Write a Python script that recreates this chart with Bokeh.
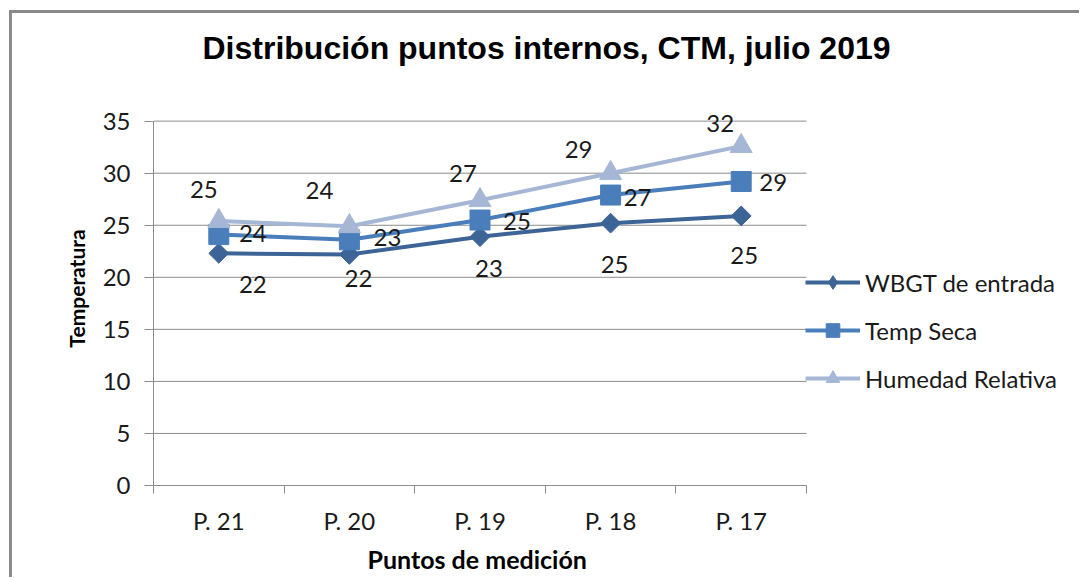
import math
from bokeh.plotting import figure
from bokeh.models import Range1d, FixedTicker, Legend, LegendItem, LabelSet, ColumnDataSource, Title
from bokeh.core.properties import value
from bokeh.embed import file_html
from bokeh.resources import INLINE

# ---------------- data ----------------
categories = ["P. 21", "P. 20", "P. 19", "P. 18", "P. 17"]
wbgt = [22.3, 22.2, 23.9, 25.2, 25.9]
temp_seca = [24.1, 23.6, 25.5, 27.9, 29.2]
humedad = [25.4, 24.9, 27.4, 30.0, 32.6]
wbgt_labels = ["22", "22", "23", "25", "25"]
temp_labels = ["24", "23", "25", "27", "29"]
hum_labels = ["25", "24", "27", "29", "32"]
series_names = ["WBGT de entrada", "Temp Seca", "Humedad Relativa"]
y_ticks = [0, 5, 10, 15, 20, 25, 30, 35]
title_text = "Distribución puntos internos, CTM, julio 2019"
x_title = "Puntos de medición"
y_title = "Temperatura"

# ---------------- layout / style ----------------
# label pixel offsets (dx right, dy down) relative to each point
wbgt_dx = [34, 9, 9, 4, 3]
wbgt_dy = [31, 24, 32, 41, 40]
temp_dx = [34, 38, 37, 27, 32]
temp_dy = [-1, -2, 1, 2, 1]
hum_dx = [-15, -30, -17, -32, -21]
hum_dy = [-32, -36, -27, -24, -23]

c_wbgt = "#3C6496"
c_temp = "#4A7EBB"
c_hum = "#A6B7D6"
grid_c = "#8c8c8c"
txt_c = "#1a1a1a"
FONT = "Lato"
FS = "24px"

W, H = 1070, 567
LEFT, BOTTOM, TOP = 141, 95, 78
PLOT_W = 653                      # pixel width of the category area
FRAME_W = W - LEFT                # frame extends under the legend
PX_PER_UNIT = 10.41               # vertical scale of the value axis
n = len(categories)
x_end = n * FRAME_W / PLOT_W
y_end = (H - BOTTOM - TOP) / PX_PER_UNIT

xs = [i + 0.5 for i in range(n)]
bounds = [float(i) for i in range(n + 1)]

p = figure(width=W, height=H,
           x_range=Range1d(0, x_end), y_range=Range1d(y_ticks[0], y_end),
           output_backend="svg", toolbar_location=None,
           min_border_left=LEFT, min_border_right=0,
           min_border_top=TOP, min_border_bottom=BOTTOM)
p.styles = {"margin-left": "12px", "margin-top": "13px",
            "box-shadow": "-3px -3px 0 0 #8a8a8a"}
p.outline_line_color = None
p.background_fill_color = "white"
p.border_fill_color = "white"

# title (trailing empty line keeps the title high above the plot area)
p.title.text = title_text + "\n"
p.title.text_font = "Liberation Sans"
p.title.text_font_style = "bold"
p.title.text_font_size = "32px"
p.title.text_color = "black"
p.title.align = "left"
p.title.offset = 49
p.title.vertical_align = "top"
p.title.standoff = -24

# axes
p.xaxis.ticker = FixedTicker(ticks=xs, minor_ticks=bounds)
p.xaxis.bounds = (0, n)
p.xaxis.major_label_overrides = {x: c for x, c in zip(xs, categories)}
p.xaxis.major_tick_out = 0
p.xaxis.major_tick_in = 0
p.xaxis.minor_tick_out = 8
p.xaxis.minor_tick_in = 0
p.xaxis.minor_tick_line_color = grid_c
p.xaxis.axis_line_color = grid_c
p.xaxis.major_label_standoff = 12

p.yaxis.ticker = FixedTicker(ticks=y_ticks, minor_ticks=[])
p.yaxis.bounds = (y_ticks[0], y_ticks[-1])
p.yaxis.major_tick_out = 9
p.yaxis.major_tick_in = 0
p.yaxis.major_tick_line_color = grid_c
p.yaxis.axis_line_color = grid_c
p.yaxis.major_label_standoff = 14
p.yaxis.axis_label = y_title
p.yaxis.axis_label_standoff = 11

for ax in (p.xaxis[0], p.yaxis[0]):
    ax.major_label_text_font = FONT
    ax.major_label_text_font_size = FS
    ax.major_label_text_color = txt_c
    ax.axis_label_text_font = FONT
    ax.axis_label_text_font_style = "bold"
    ax.axis_label_text_color = "black"
    ax.axis_line_width = 1
p.yaxis.axis_label_text_font_size = "21px"

# x-axis title, centred under the category area (leading empty line sets its depth)
xt = Title(text="\n" + x_title, align="left", offset=214, vertical_align="top",
           standoff=-47, text_font=FONT, text_font_style="bold",
           text_font_size="25px", text_color="black")
p.add_layout(xt, "below")

# horizontal grid lines over the category area only
p.xgrid.visible = False
p.ygrid.visible = False
p.segment(x0=[0] * len(y_ticks), x1=[n] * len(y_ticks), y0=y_ticks, y1=y_ticks,
          line_color=grid_c, line_width=1)

# series
specs = [
    (series_names[0], wbgt, wbgt_labels, wbgt_dx, wbgt_dy, c_wbgt, "square", 14, math.pi / 4, "diamond"),
    (series_names[1], temp_seca, temp_labels, temp_dx, temp_dy, c_temp, "square", 20, 0.0, None),
    (series_names[2], humedad, hum_labels, hum_dx, hum_dy, c_hum, "triangle", 22, 0.0, None),
]

items = []
for name, vals, labs, dx, dy, col, mk, sz, ang, legend_mk in specs:
    src = ColumnDataSource(dict(x=xs, y=vals, t=labs, dx=dx, dy=[-d for d in dy]))
    ln = p.line("x", "y", source=src, line_color=col, line_width=4)
    sw = None
    if legend_mk:
        # small diamond hidden inside the rotated square; gives the legend its diamond swatch
        sw = p.scatter("x", "y", source=src, marker=legend_mk, size=11,
                       fill_color=col, line_color=col)
    sc = p.scatter("x", "y", source=src, marker=mk, size=sz, angle=ang,
                   fill_color=col, line_color=col)
    ls = LabelSet(x="x", y="y", text="t", source=src, x_offset="dx", y_offset="dy",
                  text_align="center", text_baseline="middle",
                  text_font=value(FONT), text_font_size=FS, text_color=txt_c)
    p.add_layout(ls)
    items.append(LegendItem(label=name, renderers=[ln, sw if sw is not None else sc]))

legend = Legend(items=items, location=(652, 90), glyph_width=55, glyph_height=34,
                label_standoff=5, spacing=14, padding=0, margin=0,
                border_line_color=None, background_fill_alpha=0,
                label_text_font=FONT, label_text_font_size=FS,
                label_text_color=txt_c)
p.add_layout(legend)

open("out.html", "w").write(file_html(p, INLINE))
